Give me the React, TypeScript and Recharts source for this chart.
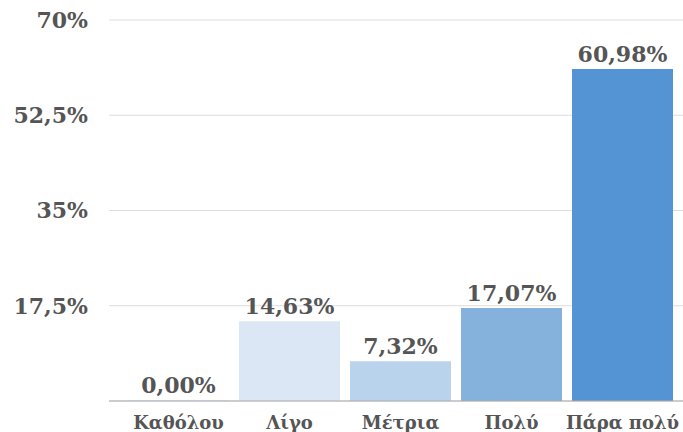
import React from 'react';
import { BarChart, Bar, XAxis, YAxis, CartesianGrid, Cell, LabelList } from 'recharts';

const categories = ['Καθόλου', 'Λίγο', 'Μέτρια', 'Πολύ', 'Πάρα πολύ'];
const values = [0.0, 14.63, 7.32, 17.07, 60.98];
const barColors = ['#dce7f5', '#dce7f5', '#bad3ec', '#85b1dd', '#5494d4'];
const yTicks = [0, 17.5, 35, 52.5, 70];

const data = categories.map((name, i) => ({ name, value: values[i] }));

const FONT = '"DejaVu Serif", Georgia, serif';
const fmt = (v: number, digits: number) => v.toFixed(digits).replace('.', ',') + '%';
const fmtTick = (v: number) => (v === 0 ? '' : String(v).replace('.', ',') + '%');

// draws the value above each bar, also for the empty one
const ValueLabel = (props: any) => {
  const { x, y, width, value } = props;
  return (
    <text
      x={Number(x) + Number(width) / 2}
      y={Number(y) - 7}
      textAnchor="middle"
      fill="#555555"
      fontSize={22}
      fontWeight="bold"
      fontFamily={FONT}
    >
      {fmt(Number(value), 2)}
    </text>
  );
};

const App: React.FC = () => {
  return (
    <div style={{ position: 'absolute', left: 0, top: 0, width: 683, height: 432, background: '#fff' }}>
      <BarChart
        width={683}
        height={432}
        data={data}
        margin={{ top: 20, right: 0, bottom: 0, left: 0 }}
        barCategoryGap={5}
      >
        <CartesianGrid vertical={false} stroke="#dddddd" />
        <XAxis
          dataKey="name"
          axisLine={{ stroke: '#aaaaaa' }}
          tickLine={false}
          padding={{ left: 14, right: 5 }}
          height={31}
          tick={{ fill: '#555555', fontSize: 18, fontWeight: 'bold', fontFamily: FONT }}
          tickMargin={9}
          interval={0}
        />
        <YAxis
          domain={[0, 70]}
          ticks={yTicks}
          width={109}
          axisLine={false}
          tickLine={false}
          tickFormatter={fmtTick}
          tickMargin={15}
          tick={{ fill: '#555555', fontSize: 22, fontWeight: 'bold', fontFamily: FONT }}
        />
        <Bar dataKey="value" isAnimationActive={false} minPointSize={1}>
          {data.map((_, i) => (
            <Cell key={`c-${i}`} fill={barColors[i]} />
          ))}
          <LabelList dataKey="value" content={ValueLabel} />
        </Bar>
      </BarChart>
    </div>
  );
};

export default App;
